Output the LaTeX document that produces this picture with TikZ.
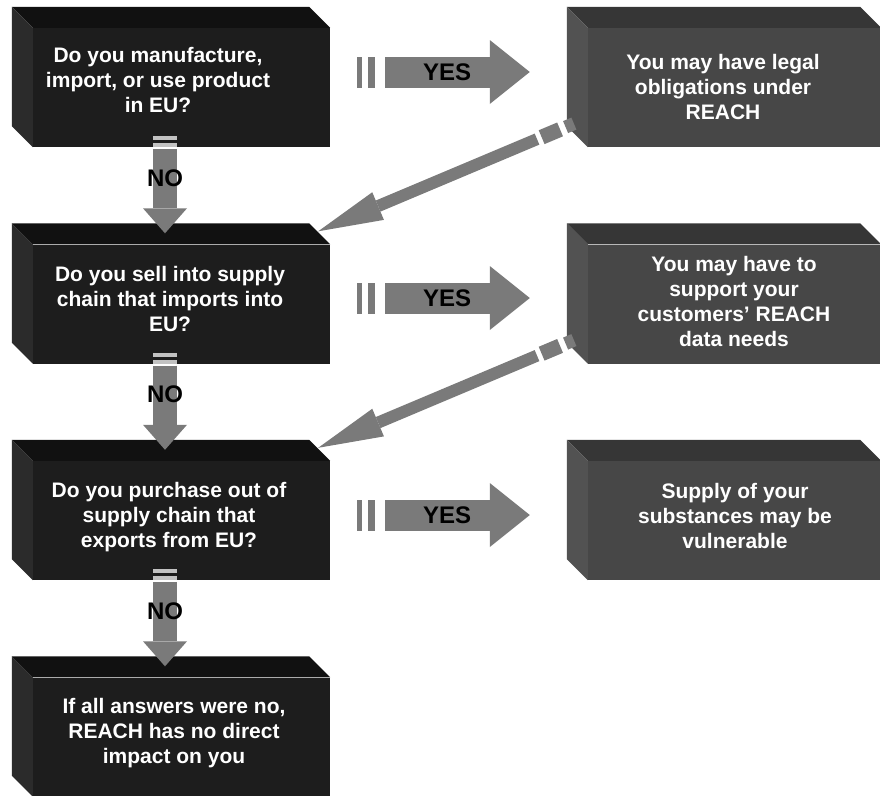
\documentclass[tikz,border=0pt]{standalone}
\usepackage{fontspec}
\setmainfont{Liberation Sans}
\usetikzlibrary{calc}

\definecolor{qfront}{HTML}{1D1D1D}
\definecolor{qtop}{HTML}{111111}
\definecolor{qside}{HTML}{2B2B2B}
\definecolor{afront}{HTML}{474747}
\definecolor{atop}{HTML}{363636}
\definecolor{aside}{HTML}{525252}
\definecolor{flowgray}{HTML}{7A7A7A}
\definecolor{bargray}{HTML}{C2C2C2}

\newcommand{\boxfont}{\bfseries\fontsize{21}{25}\selectfont}
\newcommand{\lblfont}{\bfseries\fontsize{24}{28}\selectfont}

% top and left faces of a box node
\newcommand{\bevel}[3]{%
  \fill[#2] (#1.north west) -- ++(-21,-21) -- ($(#1.north east)+(-21,-21)$) -- (#1.north east) -- cycle;
  \fill[#3] (#1.north west) -- ++(-21,-21) -- ($(#1.south west)+(-21,-21)$) -- (#1.south west) -- cycle;}

% arrow head: base, tip, half width
\newcommand{\ahead}[3]{%
  \fill[flowgray] (#2) -- ($(#1)!#3!90:(#2)$) -- ($(#1)!#3!-90:(#2)$) -- cycle;}

\begin{document}
\begin{tikzpicture}[x=1pt,y=-1pt,
    qbox/.style={fill=qfront, minimum width=297pt, minimum height=119pt, inner sep=0pt},
    abox/.style={fill=afront, minimum width=293pt, minimum height=119pt, inner sep=0pt},
    boxtxt/.style={text=white, align=center, font=\boxfont, inner sep=0pt},
    lbl/.style={text=black, font=\lblfont, inner sep=0pt}]
   \useasboundingbox (0,0) rectangle (880,795);
   % boxes
   \node[qbox] (q1) at (181.5, 87.5) {};
   \node[qbox] (q2) at (181.5,304.0) {};
   \node[qbox] (q3) at (181.5,520.5) {};
   \node[qbox] (q4) at (181.5,737.0) {};
   \node[abox] (r1) at (734.5, 87.5) {};
   \node[abox] (r2) at (734.5,304.0) {};
   \node[abox] (r3) at (734.5,520.5) {};
   \bevel{q1}{qtop}{qside}
   \bevel{q2}{qtop}{qside}
   \bevel{q3}{qtop}{qside}
   \bevel{q4}{qtop}{qside}
   \bevel{r1}{atop}{aside}
   \bevel{r2}{atop}{aside}
   \bevel{r3}{atop}{aside}
   \node[boxtxt] (q1t) at (158, 80) {Do you manufacture,\\import, or use product\\in EU?};
   \node[boxtxt] (q2t) at (170,299) {Do you sell into supply\\chain that imports into\\EU?};
   \node[boxtxt] (q3t) at (169,517) {Do you purchase out of\\supply chain that\\exports from EU?};
   \node[boxtxt] (q4t) at (174,733) {If all answers were no,\\REACH has no direct\\impact on you};
   \node[boxtxt] (r1t) at (723, 87) {You may have legal\\obligations under\\REACH};
   \node[boxtxt] (r2t) at (734,301) {You may have to\\support your\\customers' REACH\\data needs};
   \node[boxtxt] (r3t) at (735,516) {Supply of your\\substances may be\\vulnerable};
   % NO arrows
   \foreach \a/\b in {q1/q2,q2/q3,q3/q4} {
     \coordinate (\a n) at ($(\b.north)+(-16.5,-11)$);
     \coordinate (\a nb) at ($(\a n)+(0,-25)$);
     \fill[bargray] ($(\a.south)+(-28.5,-11)$) rectangle ($(\a.south)+(-4.5,-7)$);
     \fill[bargray] ($(\a.south)+(-28.5,-4)$) rectangle ($(\a.south)+(-4.5,0)$);
     \draw[flowgray,line width=24pt] ($(\a.south)+(-16.5,2)$) -- (\a nb);
     \ahead{\a nb}{\a n}{22pt}
     \node[lbl] (\a no) at ($(\a.south)+(-16.5,31)$) {NO};
   }
   % YES arrows
   \foreach \a/\b/\dy in {q1/r1/-15.5,q2/r2/-6,q3/r3/-5.5} {
     \coordinate (\a s) at ($(\a.east)+(27,\dy)$);
     \coordinate (\a y) at ($(\b.west)+(-58,\dy)$);
     \coordinate (\a yb) at ($(\a y)+(-40,0)$);
     \draw[flowgray,line width=31pt] (\a s) -- ++(5,0);
     \draw[flowgray,line width=31pt] ($(\a s)+(11,0)$) -- ++(7,0);
     \draw[flowgray,line width=31pt] ($(\a s)+(28,0)$) -- (\a yb);
     \ahead{\a yb}{\a y}{32pt}
     \node[lbl] (\a yes) at ($(\a s)+(90,0)$) {YES};
   }
   % back arrows
   \foreach \a/\b in {r1/q2,r2/q3} {
     \coordinate (\a d) at ($(\a.south west)+(-13,-24)$);
     \coordinate (\a t) at ($(\b.north east)+(-12,-13)$);
     \coordinate (\a tb) at ($(\a t)!65pt!(\a d)$);
     \draw[flowgray,line width=13pt] ($(\a d)!1pt!(\a t)$) -- ($(\a d)!10pt!(\a t)$);
     \draw[flowgray,line width=15pt] ($(\a d)!16pt!(\a t)$) -- ($(\a d)!36pt!(\a t)$);
     \draw[flowgray,line width=12pt] ($(\a d)!41pt!(\a t)$) -- (\a tb);
     \ahead{\a tb}{\a t}{15pt}
   }
\end{tikzpicture}
\end{document}
